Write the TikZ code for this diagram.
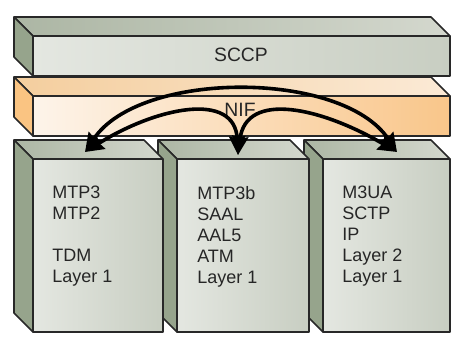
\documentclass[tikz,border=0pt]{standalone}
\usepackage{fontspec}
\setmainfont{Liberation Sans}
\usetikzlibrary{arrows.meta}

\definecolor{edgegray}{RGB}{40,40,40}
\definecolor{graysideC}{RGB}{150,164,140}
\definecolor{graytopL}{RGB}{172,182,164}
\definecolor{graytopR}{RGB}{212,216,206}
\definecolor{grayfrontL}{RGB}{228,231,225}
\definecolor{grayfrontR}{RGB}{200,206,194}
\definecolor{orangesideC}{RGB}{250,196,130}
\definecolor{orangetopL}{RGB}{244,206,158}
\definecolor{orangetopR}{RGB}{251,234,214}
\definecolor{orangefrontL}{RGB}{253,244,234}
\definecolor{orangefrontR}{RGB}{249,198,138}

\begin{document}
\begin{tikzpicture}[x=0.75pt,y=-0.75pt,
    edge/.style={draw=edgegray,line width=1.2pt,line join=round},
    grayside/.style={edge,fill=graysideC},
    graytop/.style={edge,left color=graytopL,right color=graytopR},
    grayfront/.style={edge,left color=grayfrontL,right color=grayfrontR},
    orangeside/.style={edge,fill=orangesideC},
    orangetop/.style={edge,left color=orangetopL,right color=orangetopR},
    orangefront/.style={edge,left color=orangefrontL,right color=orangefrontR},
    barlabel/.style={inner sep=0pt,text=black!85,font=\fontsize{14.5}{17}\selectfont},
    stacktext/.style={anchor=north west,align=left,inner sep=0pt,text=black!85,
        font=\fontsize{13.5}{15.75}\selectfont},
    link/.style={{Stealth[length=14pt,width=12pt,inset=1.5pt]}-{Stealth[length=14pt,width=12pt,inset=1.5pt]},
        line width=2.7pt,black}
  ]
    \useasboundingbox (0,0) rectangle (454,338);

    % SCCP bar
    \draw[graytop] (14,17) -- (431,17) -- (450,36) -- (33,36) -- cycle;
    \draw[grayside] (14,17) -- (33,36) -- (33,76) -- (14,57) -- cycle;
    \draw[grayfront] (33,36) rectangle (450,76);
    \node[barlabel] (sccp) at (241,55) {SCCP};

    % NIF bar
    \draw[orangetop] (14,77) -- (431,77) -- (450,96) -- (33,96) -- cycle;
    \draw[orangeside] (14,77) -- (33,96) -- (33,136) -- (14,117) -- cycle;
    \draw[orangefront] (33,96) rectangle (450,136);
    \node[barlabel] (nif) at (240,110) {NIF};

    % Right stack
    \draw[graytop] (304,140) -- (431,140) -- (450,159) -- (323,159) -- cycle;
    \draw[grayside] (304,140) -- (323,159) -- (323,332) -- (304,313) -- cycle;
    \draw[grayfront] (323,159) rectangle (450,332);
    \node[stacktext] (stackC) at (342,186) {M3UA\\SCTP\\IP\\Layer 2\\Layer 1};

    % Middle stack
    \draw[graytop] (158,140) -- (290,140) -- (309,159) -- (177,159) -- cycle;
    \draw[grayside] (158,140) -- (177,159) -- (177,332) -- (158,313) -- cycle;
    \draw[grayfront] (177,159) rectangle (309,332);
    \node[stacktext] (stackB) at (197,186) {MTP3b\\SAAL\\AAL5\\ATM\\Layer 1};

    % Left stack
    \draw[graytop] (14,140) -- (144,140) -- (163,159) -- (33,159) -- cycle;
    \draw[grayside] (14,140) -- (33,159) -- (33,332) -- (14,313) -- cycle;
    \draw[grayfront] (33,159) rectangle (163,332);
    \node[stacktext] (stackA) at (52,186) {MTP3\\MTP2\\\mbox{}\\TDM\\Layer 1};

    % Arrow ends
    \coordinate (tipA) at (85,152);
    \coordinate (tipB) at (238,155);
    \coordinate (tipC) at (397,152);

    % Links through NIF
    \draw[link] (tipA) .. controls +(55,-82) and +(-55,-82) .. (tipC);
    \draw[link] (tipA) .. controls +(70,-44) and +(-3,-65) .. (tipB);
    \draw[link] (tipB) .. controls +(8,-65) and +(-75,-44) .. (tipC);
\end{tikzpicture}
\end{document}
